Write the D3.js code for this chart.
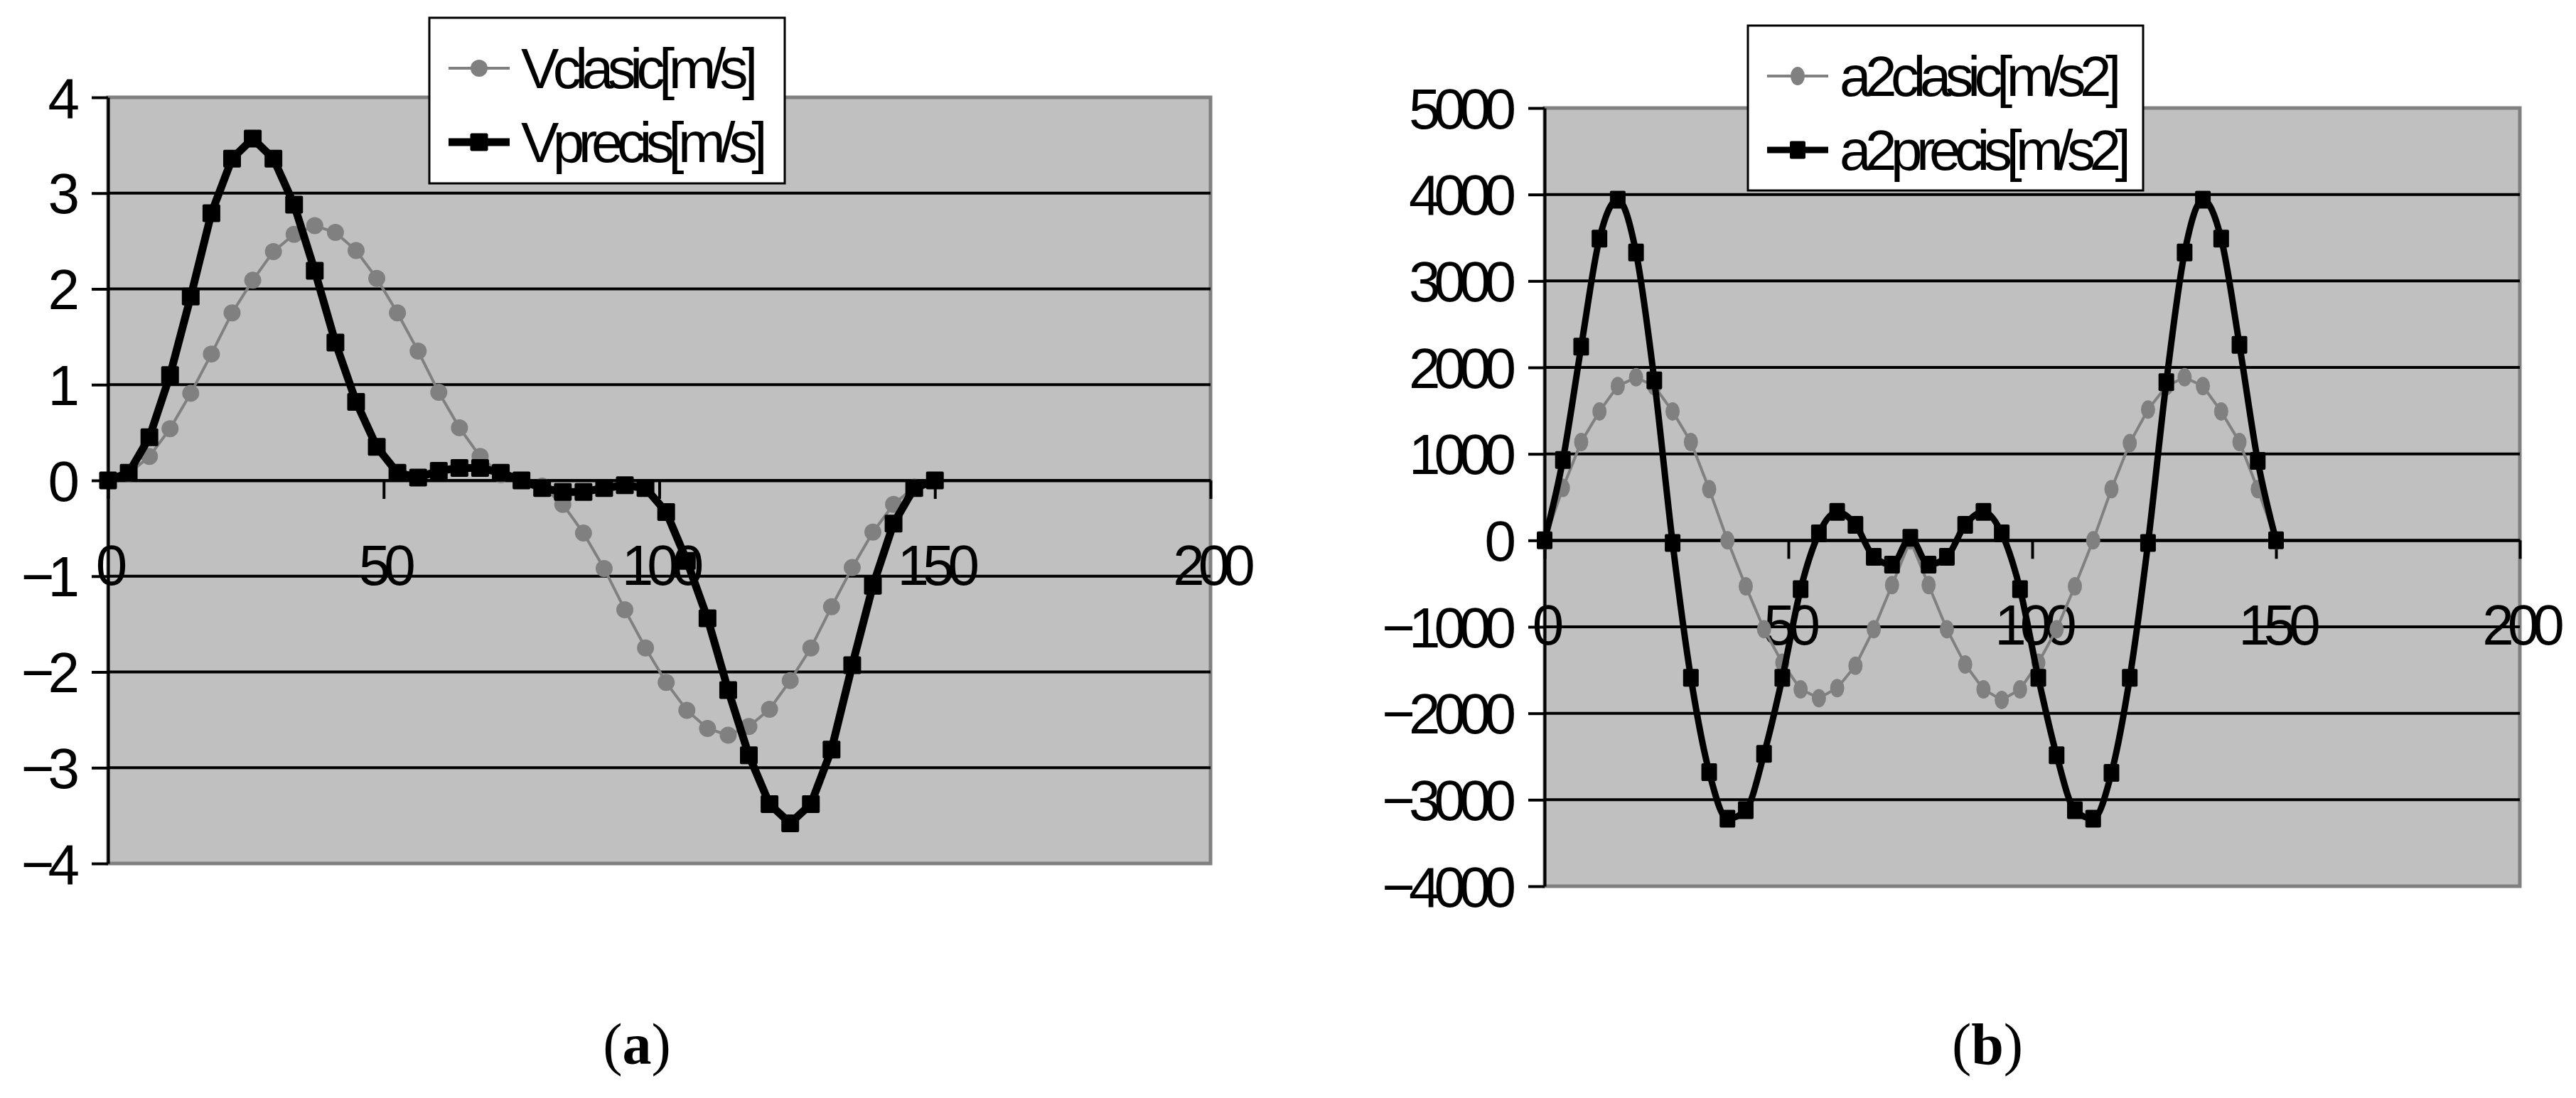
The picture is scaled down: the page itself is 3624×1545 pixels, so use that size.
<!DOCTYPE html>
<meta charset="utf-8">
<style>
body { margin: 0; background: #fff; }
svg text { font-family: "Liberation Sans", Arial, sans-serif; }
</style>
<svg width="3624" height="1545"></svg>
<script src="https://d3js.org/d3.v7.min.js"></script>
<script>
"use strict";

// time steps (x values), same for all four series
var tSteps = [0, 3.75, 7.5, 11.25, 15, 18.75, 22.5, 26.25, 30, 33.75, 37.5, 41.25, 45, 48.75,
  52.5, 56.25, 60, 63.75, 67.5, 71.25, 75, 78.75, 82.5, 86.25, 90, 93.75, 97.5, 101.25, 105,
  108.75, 112.5, 116.25, 120, 123.75, 127.5, 131.25, 135, 138.75, 142.5, 146.25, 150];

// (a) speeds
var vClasic = [0, 0.07, 0.25, 0.54, 0.91, 1.32, 1.75, 2.09, 2.39, 2.57, 2.66, 2.59, 2.40, 2.11,
  1.75, 1.35, 0.92, 0.55, 0.25, 0.06, 0, -0.06, -0.25, -0.55, -0.92, -1.35, -1.75, -2.11, -2.40,
  -2.59, -2.66, -2.57, -2.39, -2.09, -1.75, -1.32, -0.91, -0.54, -0.25, -0.07, 0];
var vPrecis = [0, 0.08, 0.45, 1.10, 1.92, 2.79, 3.36, 3.57, 3.36, 2.88, 2.19, 1.44, 0.82, 0.35,
  0.08, 0.03, 0.10, 0.13, 0.13, 0.08, 0, -0.08, -0.12, -0.12, -0.08, -0.05, -0.08, -0.33, -0.84,
  -1.44, -2.19, -2.87, -3.38, -3.58, -3.38, -2.81, -1.93, -1.10, -0.45, -0.08, 0];

// (b) accelerations
var a2Clasic = [0, 606, 1137, 1491, 1784, 1886, 1784, 1491, 1137, 592, 0, -531, -1028, -1416,
  -1723, -1825, -1709, -1450, -1028, -517, 0, -517, -1028, -1436, -1723, -1846, -1723, -1416,
  -1028, -531, 0, 592, 1124, 1512, 1784, 1886, 1784, 1491, 1137, 592, 0];
var a2Precis = [0, 930, 2240, 3490, 3940, 3330, 1850, -30, -1590, -2680, -3220, -3120, -2470,
  -1590, -565, 80, 330, 180, -190, -280, 30, -280, -190, 180, 330, 80, -565, -1590, -2485,
  -3120, -3220, -2690, -1590, -30, 1830, 3330, 3940, 3490, 2260, 920, 0];

var xTicks = [0, 50, 100, 150, 200];
var vTicks = [-4, -3, -2, -1, 0, 1, 2, 3, 4];
var aTicks = [-4000, -3000, -2000, -1000, 0, 1000, 2000, 3000, 4000, 5000];

var svg = d3.select("svg");

function drawPanel(p) {
  var x = d3.scaleLinear().domain([0, 200]).range([p.left, p.right]);
  var y = d3.scaleLinear().domain([p.yTicks[0], p.yTicks[p.yTicks.length - 1]]).range([p.bottom, p.top]);
  var g = svg.append("g");

  // plot area
  g.append("rect")
    .attr("x", p.left).attr("y", p.top)
    .attr("width", p.right - p.left).attr("height", p.bottom - p.top)
    .attr("fill", "#c0c0c0").attr("stroke", "#808080").attr("stroke-width", 5);

  // grid
  g.append("g").selectAll("line")
    .data(p.yTicks.slice(1, -1))
    .enter().append("line")
      .attr("x1", p.left).attr("x2", p.right)
      .attr("y1", function(d) { return y(d); })
      .attr("y2", function(d) { return y(d); })
      .attr("stroke", "#000").attr("stroke-width", 4);

  // y axis
  var ya = g.append("g")
    .attr("transform", "translate(" + p.left + ",0)")
    .call(d3.axisLeft(y).tickValues(p.yTicks).tickSize(23).tickSizeOuter(0).tickPadding(26)
      .tickFormat(d3.format("d")));
  // x axis on the zero line
  var xa = g.append("g")
    .attr("transform", "translate(0," + y(0) + ")")
    .call(d3.axisBottom(x).tickValues(xTicks).tickSize(26).tickSizeOuter(0).tickPadding(64));

  [ya, xa].forEach(function(a) {
    a.attr("font-size", 80).attr("font-family", null);
    a.select(".domain").attr("stroke", "#000").attr("stroke-width", 4);
    a.selectAll(".tick line").attr("stroke", "#000").attr("stroke-width", 4);
    a.selectAll(".tick text").attr("fill", "#000").style("letter-spacing", "-9px");
  });
  ya.selectAll(".tick text").attr("dy", "0.35em");

  var line = d3.line()
    .x(function(d, i) { return x(tSteps[i]); })
    .y(function(d) { return y(d); });

  // grey series
  g.append("path").datum(p.grey)
    .attr("d", line).attr("fill", "none")
    .attr("stroke", "#808080").attr("stroke-width", 4);
  g.append("g").selectAll("ellipse")
    .data(p.grey)
    .enter().append("ellipse")
      .attr("cx", function(d, i) { return x(tSteps[i]); })
      .attr("cy", function(d) { return y(d); })
      .attr("rx", p.dotRx).attr("ry", p.dotRy)
      .attr("fill", "#808080");

  // black series
  g.append("path").datum(p.black)
    .attr("d", line.curve(p.curve)).attr("fill", "none")
    .attr("stroke", "#000").attr("stroke-width", p.blackWidth)
    .attr("stroke-linejoin", "round");
  g.append("g").selectAll("rect")
    .data(p.black)
    .enter().append("rect")
      .attr("x", function(d, i) { return x(tSteps[i]) - p.sqW / 2; })
      .attr("y", function(d) { return y(d) - p.sqH / 2; })
      .attr("width", p.sqW).attr("height", p.sqH)
      .attr("rx", 2)
      .attr("fill", "#000");

  // legend
  var lg = svg.append("g").attr("transform", "translate(" + p.legend.x + "," + p.legend.y + ")");
  lg.append("rect")
    .attr("width", p.legend.w).attr("height", p.legend.h)
    .attr("fill", "#fff").attr("stroke", "#000").attr("stroke-width", 3);
  var items = [
    {name: p.names[0], color: "#808080", width: 4, mark: "dot", yy: 71},
    {name: p.names[1], color: "#000", width: p.blackWidth, mark: "sq", yy: 175}
  ];
  items.forEach(function(it) {
    lg.append("line")
      .attr("x1", 27).attr("x2", 113).attr("y1", it.yy).attr("y2", it.yy)
      .attr("stroke", it.color).attr("stroke-width", it.width);
    if (it.mark == "dot") {
      lg.append("ellipse").attr("cx", 70).attr("cy", it.yy)
        .attr("rx", p.dotRx).attr("ry", p.dotRy).attr("fill", it.color);
    } else {
      lg.append("rect").attr("x", 70 - p.sqW / 2).attr("y", it.yy - p.sqH / 2)
        .attr("width", p.sqW).attr("height", p.sqH).attr("rx", 2).attr("fill", it.color);
    }
    lg.append("text")
      .attr("x", 129).attr("y", it.yy).attr("dy", "0.35em")
      .attr("font-size", 80).style("letter-spacing", "-8.5px")
      .text(it.name);
  });

  // panel caption
  var cap = svg.append("text")
    .attr("x", p.capX).attr("y", 1497)
    .attr("text-anchor", "middle")
    .attr("font-size", 82)
    .style("font-family", '"Liberation Serif", "Times New Roman", serif');
  cap.append("tspan").text("(");
  cap.append("tspan").attr("font-weight", "bold").text(p.cap);
  cap.append("tspan").text(")");
}

drawPanel({
  left: 152, right: 1703, top: 137, bottom: 1215,
  yTicks: vTicks, grey: vClasic, black: vPrecis,
  names: ["Vclasic[m/s]", "Vprecis[m/s]"],
  dotRx: 12, dotRy: 12, sqW: 25, sqH: 25, blackWidth: 11, curve: d3.curveLinear,
  legend: {x: 604, y: 25, w: 500, h: 233},
  capX: 896, cap: "a"
});

drawPanel({
  left: 2173, right: 3545, top: 152, bottom: 1247,
  yTicks: aTicks, grey: a2Clasic, black: a2Precis,
  names: ["a2clasic[m/s2]", "a2precis[m/s2]"],
  dotRx: 10, dotRy: 13, sqW: 22, sqH: 25, blackWidth: 9, curve: d3.curveMonotoneX,
  legend: {x: 2459, y: 36, w: 556, h: 232},
  capX: 2796, cap: "b"
});
</script>
